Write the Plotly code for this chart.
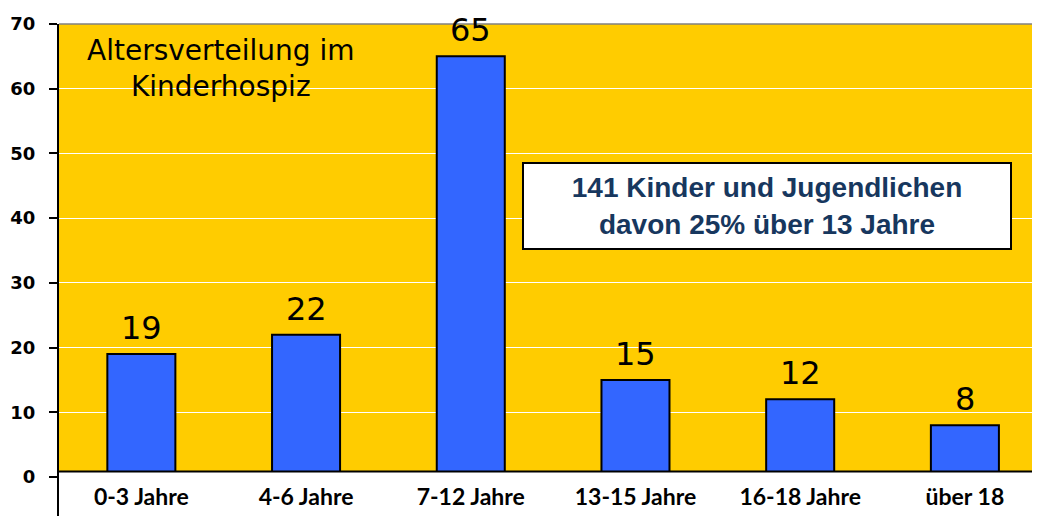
import plotly.graph_objects as go

categories = ["0-3 Jahre", "4-6 Jahre", "7-12 Jahre", "13-15 Jahre", "16-18 Jahre", "über 18"]
values = [19, 22, 65, 15, 12, 8]
y_ticks = [0, 10, 20, 30, 40, 50, 60, 70]
title_text = "Altersverteilung im<br>Kinderhospiz"
box_text = "141 Kinder und Jugendlichen<br>davon 25% über 13 Jahre"

YELLOW = "#FFCC00"
BLUE = "#3366FF"

# page body has an 8px margin; figure is sized/offset to compensate
PW, PH = 981, 453  # plot area size

fig = go.Figure()
fig.add_trace(go.Bar(
    x=categories, y=values, width=0.413,
    marker=dict(color=BLUE, line=dict(color="black", width=2)),
    hoverinfo="skip",
))

for c, v in zip(categories, values):
    fig.add_annotation(x=c, y=v, text=str(v), showarrow=False, yanchor="bottom",
                       yshift=5, font=dict(family="DejaVu Sans", size=32, color="black"))

# title inside plot
fig.add_annotation(xref="paper", yref="paper", x=(221 - 59) / PW, y=(477 - 69) / PH,
                   text=title_text, showarrow=False, xanchor="center", yanchor="middle",
                   font=dict(family="DejaVu Sans", size=28, color="black"))

# info box
fig.add_annotation(xref="paper", yref="paper", x=(767 - 59) / PW, y=(477 - 206) / PH,
                   text="<b>" + box_text + "</b>", showarrow=False,
                   xanchor="center", yanchor="middle",
                   width=486, height=84, bgcolor="white", bordercolor="black",
                   borderwidth=2, borderpad=0,
                   font=dict(family="Liberation Sans", size=28, color="#17375E"))

# shapes: white strip under axis, x axis line, extended y line, top line
fig.add_shape(type="rect", xref="paper", yref="y", x0=0, x1=1, y0=0, y1=0.85,
              fillcolor="white", line=dict(width=0), layer="above")
fig.add_shape(type="line", xref="paper", yref="y", x0=0, x1=1, y0=0.85, y1=0.85,
              line=dict(color="black", width=2), layer="above")
fig.add_shape(type="line", xref="paper", yref="paper", x0=-0.001, x1=-0.001, y0=0, y1=-0.2,
              line=dict(color="black", width=2), layer="above")
fig.add_shape(type="line", xref="paper", yref="paper", x0=0, x1=1, y0=1, y1=1,
              line=dict(color="#808080", width=1.5), layer="above")

fig.update_layout(
    width=1032, height=508,
    margin=dict(l=51, r=0, t=16, b=39),
    paper_bgcolor="white", plot_bgcolor=YELLOW,
    showlegend=False,
    xaxis=dict(range=[-0.5, 5.456], showline=False, ticks="", showgrid=False,
               tickfont=dict(family="Lato", size=23, color="black", weight="bold"),
               ticklabelstandoff=4, fixedrange=True, automargin=False),
    yaxis=dict(range=[0, 70], tickvals=y_ticks, showline=True, linecolor="black", linewidth=2,
               ticks="outside", ticklen=8, tickwidth=2, tickcolor="black",
               gridcolor="white", gridwidth=1, zeroline=False,
               tickfont=dict(family="DejaVu Sans", size=18, color="black", weight="bold"),
               ticklabelstandoff=10, fixedrange=True, automargin=False),
)

fig.write_html("out.html")
